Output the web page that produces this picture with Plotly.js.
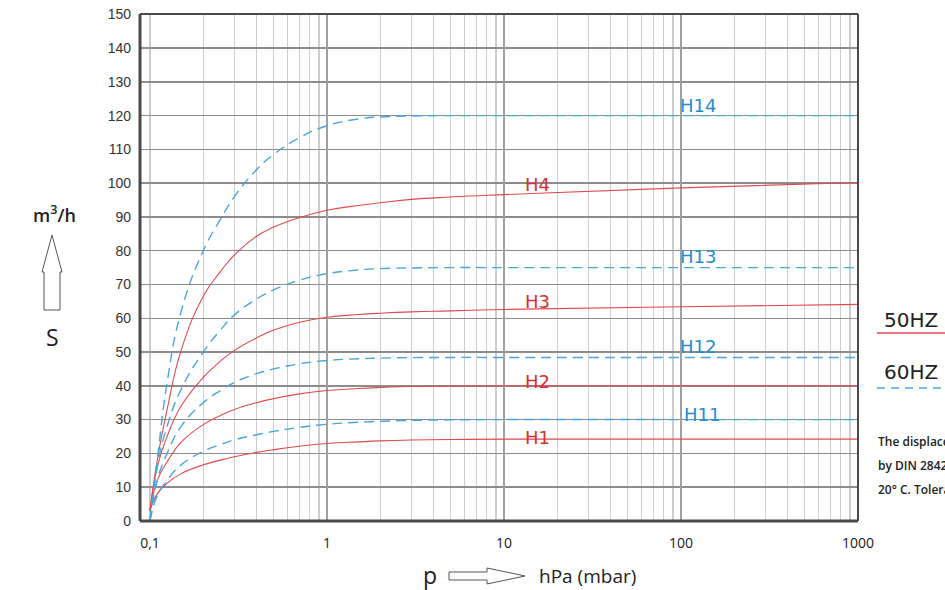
<!DOCTYPE html>
<html><head><meta charset="utf-8">
<script src="https://cdn.plot.ly/plotly-3.0.1.min.js"></script>
<style>html,body{margin:0;padding:0;background:#fff;overflow:hidden}#chart{width:945px;height:590px}</style>
</head><body><div id="chart"></div>
<script>
// pressure points (hPa / mbar)
const pressure = [0.1, 0.11, 0.125, 0.15, 0.2, 0.25, 0.3, 0.4, 0.5, 0.7, 1, 1.5, 2, 3, 5, 10, 100, 1000];
// pumping speed S (m3/h), 50 Hz (red, solid)
const H1  = [3, 8, 11.2, 14.0, 16.6, 18.0, 19.0, 20.3, 21.1, 22.1, 22.9, 23.4, 23.7, 23.95, 24.1, 24.2, 24.2, 24.2];
const H2  = [3, 12, 17.5, 23.3, 28.5, 31.2, 33.0, 35.0, 36.2, 37.6, 38.6, 39.2, 39.5, 39.8, 39.9, 40, 40, 40];
const H3  = [3, 16, 25, 34, 42.5, 47.3, 50.5, 54.2, 56.5, 58.8, 60.3, 61.1, 61.5, 61.9, 62.2, 62.6, 63.4, 64.1];
const H4  = [3, 18, 33, 50.5, 66.5, 73.8, 78.8, 84.3, 87, 89.8, 92, 93.4, 94.2, 95.2, 95.9, 96.6, 98.6, 100.2];
// pumping speed S (m3/h), 60 Hz (blue, dashed)
const H11 = [0, 7.5, 12, 16.6, 20.6, 22.6, 24.0, 25.5, 26.5, 27.7, 28.6, 29.2, 29.5, 29.75, 29.9, 30, 30, 30];
const H12 = [0, 12, 20, 28, 35, 38.6, 41, 43.6, 45, 46.5, 47.5, 48.0, 48.2, 48.35, 48.4, 48.4, 48.4, 48.4];
const H13 = [0, 16, 28, 39, 50, 56.5, 61, 65.7, 68.4, 71.3, 73.2, 74.3, 74.7, 74.9, 75, 75, 75, 75];
const H14 = [0, 18, 41, 62, 80, 89.3, 96, 104, 108.5, 113.5, 117, 119, 119.6, 119.9, 120, 120, 120, 120];

const seriesNames = ['H1', 'H2', 'H3', 'H4', 'H11', 'H12', 'H13', 'H14'];
const seriesValues = [H1, H2, H3, H4, H11, H12, H13, H14];
// label anchor positions (pressure, speed)
const labelP = [15.5, 15.5, 15.5, 15.5, 132, 125, 125, 125];
const labelS = [24.8, 41.2, 65.1, 99.7, 31.6, 51.6, 78.4, 122.9];

const yTicks = [0, 10, 20, 30, 40, 50, 60, 70, 80, 90, 100, 110, 120, 130, 140, 150];
const decades = [0.1, 1, 10, 100, 1000];
const decadeText = ['0,1', '1', '10', '100', '1000'];

const RED = '#df4a4f', BLUE = '#4aa6dc', RED_T = '#d6312f', BLUE_T = '#1f8ed0';

// minor grid positions
const gridVals = [], gridText = [];
for (let d = 0; d < 4; d++) {
  for (let k = 1; k < 10; k++) {
    const v = +(decades[d] * k).toPrecision(3);
    gridVals.push(v); gridText.push(k === 1 ? decadeText[d] : '');
  }
}
gridVals.push(1000); gridText.push('1000');

const traces = seriesNames.map((n, i) => {
  const is60 = n.length > 2;
  return {
    x: pressure, y: seriesValues[i], type: 'scatter', mode: 'lines', name: n,
    line: {color: is60 ? BLUE : RED, width: is60 ? 1.4 : 1.1, dash: is60 ? '10px,6px' : 'solid', shape: 'spline', smoothing: 1.3},
    hoverinfo: 'skip', showlegend: false
  };
});
traces.push({x: [1, 1000], y: [null, null], xaxis: 'x2', yaxis: 'y', mode: 'lines', showlegend: false, hoverinfo: 'skip'});

// pixel -> paper helpers (plot area: x 140..858, y 14..521)
const L = 140, R = 858, T = 14, B = 521;
const px = x => (x - L) / (R - L);
const py = y => (B - y) / (B - T);
const path = pts => 'M ' + pts.map(p => px(p[0]).toFixed(5) + ',' + py(p[1]).toFixed(5)).join(' L ') + ' Z';

const shapes = [
  {type: 'line', xref: 'paper', yref: 'paper', x0: 0, x1: 0, y0: 0, y1: 1, line: {color: '#4a4a4a', width: 3}},
  {type: 'line', xref: 'paper', yref: 'paper', x0: 0, x1: 1, y0: 0, y1: 0, line: {color: '#4a4a4a', width: 3}},
  {type: 'line', xref: 'paper', yref: 'paper', x0: 0, x1: 1, y0: 1, y1: 1, line: {color: '#4a4a4a', width: 2}},
  {type: 'line', xref: 'paper', yref: 'paper', x0: 1, x1: 1, y0: 0, y1: 1, line: {color: '#4a4a4a', width: 2}},
  // up arrow
  {type: 'path', xref: 'paper', yref: 'paper', path: path([[52, 235], [62, 272], [60, 272], [60, 310], [44, 310], [44, 272], [42, 272]]), line: {color: '#555', width: 1}, fillcolor: 'rgba(0,0,0,0)'},
  // right arrow
  {type: 'path', xref: 'paper', yref: 'paper', path: path([[449, 572], [487, 572], [487, 568], [525, 576], [487, 584], [487, 580], [449, 580]]), line: {color: '#555', width: 1}, fillcolor: 'rgba(0,0,0,0)'},
  // legend lines
  {type: 'line', xref: 'paper', yref: 'paper', x0: px(877), x1: px(946), y0: py(333), y1: py(333), line: {color: RED, width: 1.3}},
  {type: 'line', xref: 'paper', yref: 'paper', x0: px(877), x1: px(946), y0: py(388), y1: py(388), line: {color: BLUE, width: 1.6, dash: '8px,6px'}}
];

const annotations = seriesNames.map((n, i) => ({
  x: Math.log10(labelP[i]), y: labelS[i], xref: 'x', yref: 'y', text: n, showarrow: false,
  font: {family: 'DejaVu Sans, sans-serif', size: 18, color: n.length > 2 ? BLUE_T : RED_T}
}));
const txt = (t, x, y, size, opts) => Object.assign({xref: 'paper', yref: 'paper', x: px(x), y: py(y), text: t, showarrow: false,
  xanchor: 'center', yanchor: 'middle', font: {family: 'Open Sans, sans-serif', size: size, color: '#222'}}, opts || {});
const note = {family: 'Open Sans, sans-serif', size: 12, color: '#222', weight: 600};
annotations.push(
  txt('m<sup>3</sup>/h', 54, 214, 18, {font: {family: 'Open Sans, sans-serif', size: 18, color: '#222', weight: 600}}),
  txt('S', 52, 337, 23),
  txt('p', 430, 575, 23),
  txt('hPa (mbar)', 537, 576, 19, {xanchor: 'left'}),
  txt('50HZ', 882, 320, 20, {xanchor: 'left', font: {family: 'DejaVu Sans, sans-serif', size: 20, color: '#222'}}),
  txt('60HZ', 882, 372, 20, {xanchor: 'left', font: {family: 'DejaVu Sans, sans-serif', size: 20, color: '#222'}}),
  txt('The displacement curves are measured', 876, 441, 12, {xanchor: 'left', font: note}),
  txt('by DIN 28426 part 1 at an inlet temperature of', 876, 465, 12, {xanchor: 'left', font: note}),
  txt('20° C. Tolerance ±10%', 876, 489, 12, {xanchor: 'left', font: note})
);

const layout = {
  width: 945, height: 590,
  margin: {l: L, r: 945 - R, t: T, b: 590 - B, pad: 0},
  paper_bgcolor: '#fff', plot_bgcolor: '#fff',
  showlegend: false,
  xaxis: {type: 'log', range: [-1.0563, 3.0], tickmode: 'array', tickvals: gridVals, ticktext: gridText,
    showgrid: true, gridcolor: '#cdcdcd', gridwidth: 1.3, zeroline: false, showline: false, ticks: '',
    ticklabelstandoff: 12, tickfont: {family: 'Open Sans, sans-serif', size: 14, color: '#222'}, fixedrange: true},
  xaxis2: {type: 'log', overlaying: 'x', anchor: 'y', range: [-1.0563, 3.0], tickmode: 'array', tickvals: [1, 10, 100],
    showgrid: true, gridcolor: '#a0a0a0', gridwidth: 1.3, showticklabels: false, ticks: '', zeroline: false, showline: false},
  yaxis: {range: [-0.03, 150.09], tickmode: 'array', tickvals: yTicks, showgrid: true, gridcolor: '#8c8c8c', gridwidth: 1.5,
    zeroline: false, showline: false, ticks: '', ticklabelstandoff: 8,
    tickfont: {family: 'Liberation Sans, Arial', size: 14, color: '#333'}, fixedrange: true},
  shapes: shapes,
  annotations: annotations
};

Plotly.newPlot('chart', traces, layout, {displayModeBar: false, staticPlot: true});
</script>
</body></html>
